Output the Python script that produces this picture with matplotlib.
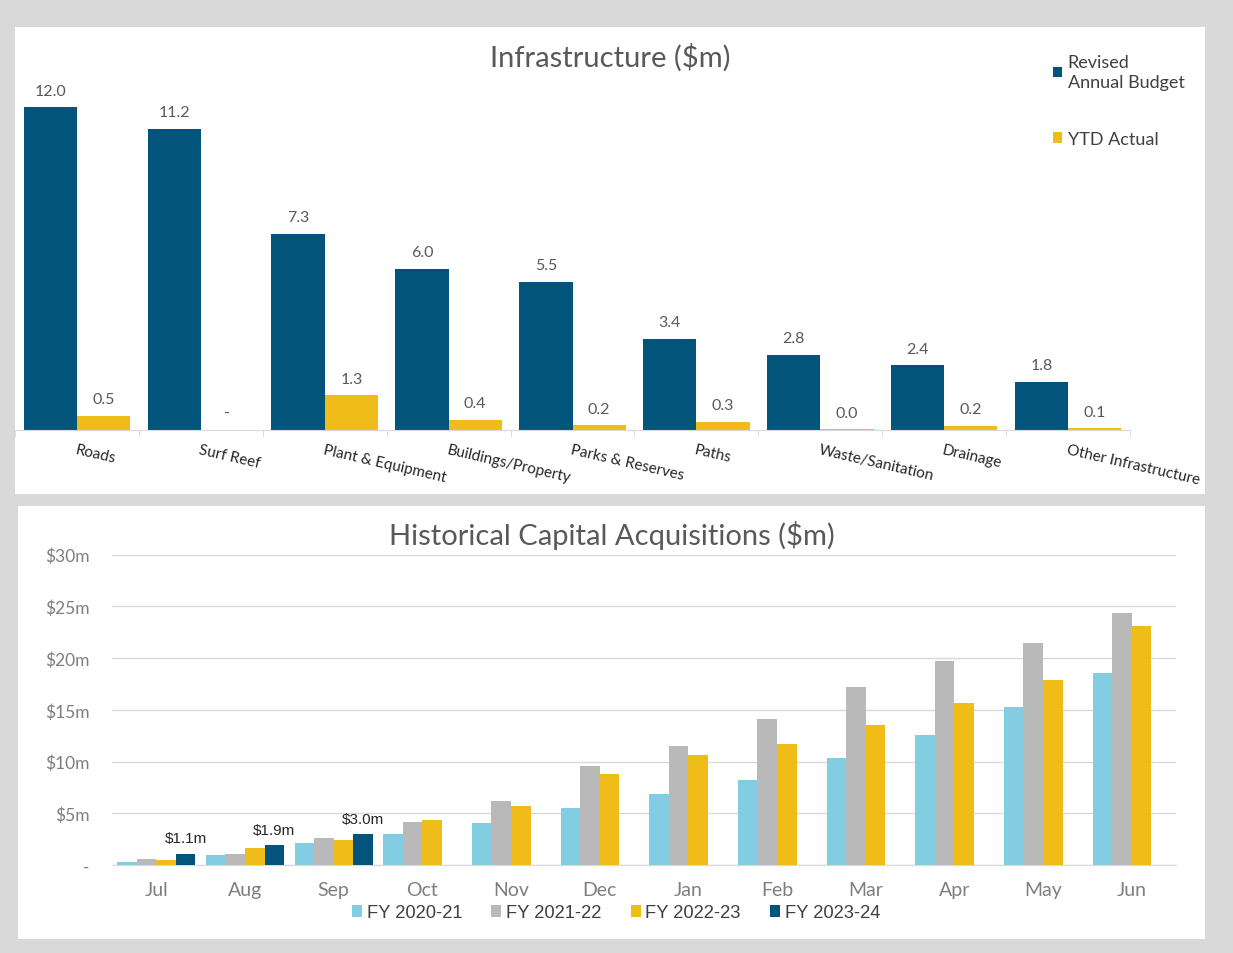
import numpy as np
import matplotlib
matplotlib.use('Agg')
import matplotlib.pyplot as plt
from matplotlib.patches import Rectangle

# ---- data ----
infra_cats = ['Roads', 'Surf Reef', 'Plant & Equipment', 'Buildings/Property',
              'Parks & Reserves', 'Paths', 'Waste/Sanitation', 'Drainage',
              'Other Infrastructure']
budget = [12.0, 11.2, 7.3, 6.0, 5.5, 3.4, 2.8, 2.4, 1.8]
ytd_actual = [0.52, 0.0, 1.29, 0.37, 0.17, 0.31, 0.02, 0.16, 0.06]

months = ['Jul', 'Aug', 'Sep', 'Oct', 'Nov', 'Dec', 'Jan', 'Feb', 'Mar',
          'Apr', 'May', 'Jun']
fy2021 = [0.3, 0.97, 2.13, 2.97, 4.03, 5.48, 6.84, 8.22, 10.35, 12.57, 15.28, 18.6]
fy2122 = [0.58, 1.06, 2.6, 4.13, 6.19, 9.55, 11.5, 14.09, 17.25, 19.7, 21.47, 24.37]
fy2223 = [0.52, 1.64, 2.42, 4.32, 5.7, 8.77, 10.64, 11.67, 13.57, 15.64, 17.92, 23.11]
fy2324 = [1.1, 1.9, 3.0]
fy_labels = ['FY 2020-21', 'FY 2021-22', 'FY 2022-23', 'FY 2023-24']

navy = '#02547a'
yellow = '#f0bc1a'
lightblue = '#82cde1'
grey = '#b9b9b9'
W, H = 1233, 954

plt.rcParams['font.family'] = ['Lato', 'DejaVu Sans']

fig = plt.figure(figsize=(W / 100, H / 100), dpi=100)
fig.patch.set_facecolor('#d9d9d9')


def fx(px):
    return px / W


def fy(py):
    return 1 - py / H


# white panels
for (x0, y0, x1, y1) in [(15, 28, 1205, 495), (18, 507, 1205, 940)]:
    fig.patches.append(Rectangle((fx(x0), fy(y1)), fx(x1) - fx(x0), fy(y0) - fy(y1),
                                 transform=fig.transFigure, facecolor='white',
                                 edgecolor='none', zorder=-1))

# ---- top chart ----
ax1 = fig.add_axes([fx(15), fy(431), fx(1130) - fx(15), fy(40) - fy(431)])
ax1.set_facecolor('none')
x = np.arange(len(infra_cats))
bw = 0.43
b1 = ax1.bar(x - bw / 2, budget, width=bw, color=navy, label='Revised\nAnnual Budget')
b2 = ax1.bar(x + bw / 2, ytd_actual, width=bw, color=yellow, label='YTD Actual')
for bars, vals in [(b1, budget), (b2, ytd_actual)]:
    for r, v in zip(bars, vals):
        lab = f'{v:.1f}' if v > 0 else '-'
        ax1.annotate(lab, (r.get_x() + r.get_width() / 2, v), xytext=(0, 7),
                     textcoords='offset points', ha='center', va='bottom',
                     fontsize=11.5, color='#595959')
ax1.set_xlim(-0.5, len(infra_cats) - 0.5)
ax1.set_ylim(0, (431 - 40) / 26.89)
ax1.set_yticks([])
for s in ['top', 'right', 'left']:
    ax1.spines[s].set_visible(False)
ax1.spines['bottom'].set_color('#d9d9d9')
ax1.set_xticks(x)
ax1.set_xticklabels(infra_cats, rotation=-13, ha='left', rotation_mode='anchor',
                    fontsize=11, color='#262626')
ax1.tick_params(axis='x', length=0, pad=9)
ax1.set_xticks(np.arange(len(infra_cats) + 1) - 0.5, minor=True)
ax1.tick_params(axis='x', which='minor', length=5, color='#d9d9d9')
fig.text(fx(610), fy(58), 'Infrastructure ($m)', fontsize=21, color='#595959',
         ha='center', va='center')
leg1 = ax1.legend(loc='upper left', bbox_to_anchor=(fx(1037), fy(39)),
                  bbox_transform=fig.transFigure, frameon=False, fontsize=13,
                  labelcolor='#404040', handlelength=0.5, handleheight=0.5,
                  handletextpad=0.3, labelspacing=2.3)
for t in leg1.get_texts():
    t.set_linespacing(1.25)

# ---- bottom chart ----
ax2 = fig.add_axes([fx(112), fy(866), fx(1176) - fx(112), fy(555.7) - fy(866)])
ax2.set_facecolor('none')
xm = np.arange(len(months))
w = 0.22
series = [(fy2021, lightblue), (fy2122, grey), (fy2223, yellow), (fy2324, navy)]
for k, ((vals, c), lab) in enumerate(zip(series, fy_labels)):
    bars = ax2.bar(xm[:len(vals)] + (k - 1.5) * w, vals, width=w, color=c, label=lab,
                   zorder=3)
    if k == 3:
        for r, v in zip(bars, vals):
            ax2.annotate(f'${v:.1f}m', (r.get_x() + r.get_width() / 2, v),
                         xytext=(0, 6), textcoords='offset points', ha='center',
                         va='bottom', fontsize=11, color='#262626',
                         family='Liberation Sans')
ax2.set_xlim(-0.5, len(months) - 0.5)
ax2.set_ylim(0, 30)
yt = np.arange(0, 31, 5)
ax2.set_yticks(yt)
ax2.set_yticklabels(['-' if v == 0 else f'${v}m' for v in yt], fontsize=12.5,
                    color='#7f7f7f')
ax2.grid(axis='y', color='#d9d9d9', linewidth=1, zorder=0)
for s in ['top', 'right', 'left']:
    ax2.spines[s].set_visible(False)
ax2.spines['bottom'].set_color('#d9d9d9')
ax2.tick_params(axis='y', length=0, pad=16)
ax2.set_xticks(xm)
ax2.set_xticklabels(months, fontsize=14, color='#7f7f7f')
ax2.tick_params(axis='x', length=0, pad=11.5)
fig.text(fx(612), fy(536), 'Historical Capital Acquisitions ($m)', fontsize=21,
         color='#595959', ha='center', va='center')
ax2.legend(loc='center', bbox_to_anchor=(fx(616), fy(914)),
           bbox_transform=fig.transFigure, ncol=4, frameon=False,
           prop={'family': 'Liberation Sans', 'size': 13.2}, labelcolor='#404040',
           handlelength=0.55, handleheight=0.55, handletextpad=0.25,
           columnspacing=1.6)

fig.savefig('out.png', dpi=100, facecolor=fig.get_facecolor())
